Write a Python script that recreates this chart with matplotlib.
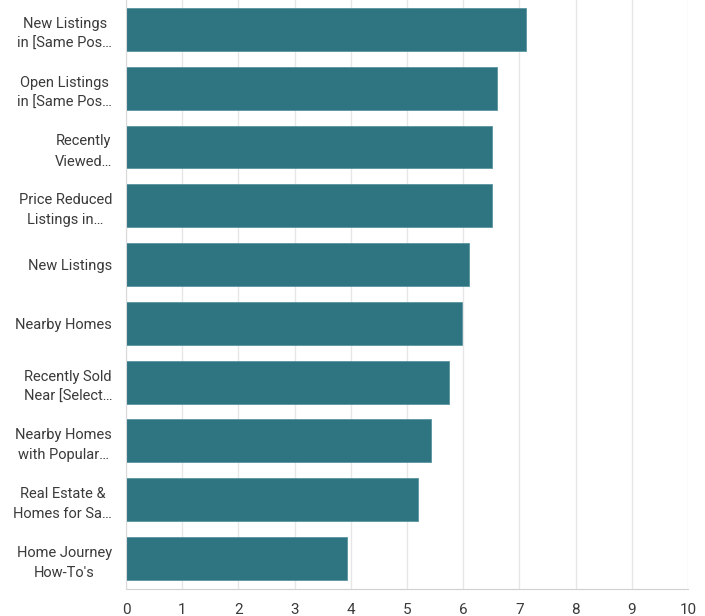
import matplotlib.pyplot as plt

labels = [
    "New Listings\nin [Same Pos…",
    "Open Listings\nin [Same Pos…",
    "Recently\nViewed…",
    "Price Reduced\nListings in…",
    "New Listings",
    "Nearby Homes",
    "Recently Sold\nNear [Select…",
    "Nearby Homes\nwith Popular…",
    "Real Estate &\nHomes for Sa…",
    "Home Journey\nHow-To's",
]
values = [7.12, 6.60, 6.52, 6.52, 6.10, 5.97, 5.74, 5.42, 5.20, 3.93]
ticks = list(range(0, 11))

plt.rcParams['font.family'] = ['Roboto', 'DejaVu Sans']

fig = plt.figure(figsize=(7.05, 6.16), dpi=100)
ax = fig.add_axes([0.1787, 0.0438, 0.976 - 0.1787, 1 - 0.0438])

pos = list(range(len(labels)))
ax.barh(pos, values, height=0.73, color='#2f7481', edgecolor='#5a94a0', linewidth=0.6, zorder=3)

ax.set_ylim(len(labels) - 0.48, -0.5)
ax.set_xlim(0, 10)
ax.set_xticks(ticks)
ax.set_xticklabels([str(t) for t in ticks], fontsize=11, color='#3a3a3a')
ax.set_yticks(pos)
ax.set_yticklabels(labels, fontsize=10.5, color='#3a3a3a', multialignment='center',
                   linespacing=1.55)

ax.grid(axis='x', color='#e6e6e6', linewidth=1, zorder=0)
ax.tick_params(axis='both', length=0)
ax.tick_params(axis='y', pad=10)
ax.tick_params(axis='x', pad=10)
for s in ['top', 'right']:
    ax.spines[s].set_visible(False)
ax.spines['left'].set_color('#d9d9d9')
ax.spines['bottom'].set_color('#d0d0d0')
ax.spines['left'].set_zorder(4)

fig.savefig('out.png', dpi=100)
